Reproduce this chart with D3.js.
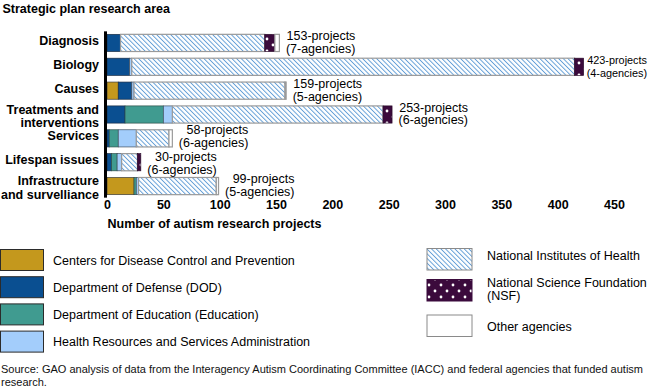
<!DOCTYPE html>
<html>
<head>
<meta charset="utf-8">
<script src="https://cdn.jsdelivr.net/npm/d3@7"></script>
<style>
  html, body { margin: 0; padding: 0; background: #fff; }
  svg { display: block; font-family: "Liberation Sans", Arial, sans-serif; }
</style>
</head>
<body>
<svg id="chart" width="650" height="390"></svg>
<script>
// ---- data ----
const categories = ["Diagnosis", "Biology", "Causes", "Treatments and interventions", "Services", "Lifespan issues", "Infrastructure and survelliance"];
const categoryLines = [["Diagnosis"], ["Biology"], ["Causes"], ["Treatments and", "interventions"], ["Services"], ["Lifespan issues"], ["Infrastructure", "and survelliance"]];
const cdc   = [0, 0, 10, 0, 0, 0, 24];
const dod   = [12, 20, 12, 16, 2, 4, 0];
const edu   = [0, 0, 0, 34, 8, 5, 2];
const hrsa  = [0, 2, 2, 8, 16, 4, 2];
const nih   = [128, 393, 134, 187, 29, 14, 69];
const nsf   = [9, 8, 0, 8, 0, 3, 0];
const other = [4, 0, 1, 0, 3, 0, 2];
const totalProjects = [153, 423, 159, 253, 58, 30, 99];
const agencyCounts  = [7, 4, 5, 6, 6, 6, 5];
const seriesKeys  = ["cdc", "dod", "edu", "hrsa", "nih", "nsf", "other"];
const seriesNames = ["Centers for Disease Control and Prevention", "Department of Defense (DOD)", "Department of Education (Education)", "Health Resources and Services Administration", "National Institutes of Health", "National Science Foundation (NSF)", "Other agencies"];
const xTicks = [0, 50, 100, 150, 200, 250, 300, 350, 400, 450];
const titleText = "Strategic plan research area";
const axisTitle = "Number of autism research projects";
const sourceLines = ["Source: GAO analysis of data from the Interagency Autism Coordinating Committee (IACC) and federal agencies that funded autism", "research."];

// ---- build table ----
const seriesValues = { cdc, dod, edu, hrsa, nih, nsf, other };
const table = categories.map((c, i) => {
  const row = { cat: c };
  seriesKeys.forEach(k => row[k] = seriesValues[k][i]);
  return row;
});

const svg = d3.select("#chart");
const FONT = 12.5;

// patterns
const defs = svg.append("defs");
const pNih = defs.append("pattern").attr("id", "pat-nih").attr("patternUnits", "userSpaceOnUse")
  .attr("width", 3.3).attr("height", 3.3).attr("patternTransform", "rotate(-45)");
pNih.append("rect").attr("width", 3.3).attr("height", 3.3).attr("fill", "#fff");
pNih.append("line").attr("x1", 0.5).attr("y1", -1).attr("x2", 0.5).attr("y2", 5)
  .attr("stroke", "#4f92d2").attr("stroke-width", 0.85);
const pNsf = defs.append("pattern").attr("id", "pat-nsf").attr("patternUnits", "userSpaceOnUse")
  .attr("width", 12).attr("height", 12);
pNsf.append("rect").attr("width", 12).attr("height", 12).attr("fill", "#3b0a3c");
pNsf.append("circle").attr("cx", 3).attr("cy", 3).attr("r", 1.4).attr("fill", "#fff");
pNsf.append("circle").attr("cx", 9).attr("cy", 9).attr("r", 1.4).attr("fill", "#fff");

const fills = { cdc: "#c4981d", dod: "#0a4f91", edu: "#409b90", hrsa: "#a3cdfb", nih: "url(#pat-nih)", nsf: "url(#pat-nsf)", other: "#ffffff" };
const strokes = { cdc: "#3a3a3a", dod: "#1b2d44", edu: "#2f4f4a", hrsa: "#40505e", nih: "#9a9a9a", nsf: "#2a0a2a", other: "#9a9a9a" };

// scales
const x = d3.scaleLinear().domain([0, 450]).range([107, 614]);
const y = d3.scaleBand().domain(categories).range([31, 198]).paddingInner(0.28).paddingOuter(0.14);

// title
svg.append("text").attr("x", 2.5).attr("y", 13).attr("font-size", FONT).attr("font-weight", "bold").text(titleText);

// stacked bars
const stacked = d3.stack().keys(seriesKeys)(table);
svg.append("g").selectAll("g").data(stacked).join("g")
  .each(function (s) {
    d3.select(this).selectAll("rect").data(s.filter(d => d[1] - d[0] > 0)).join("rect")
      .attr("x", d => x(d[0]))
      .attr("width", d => x(d[1]) - x(d[0]))
      .attr("y", d => y(d.data.cat))
      .attr("height", y.bandwidth())
      .attr("fill", fills[s.key])
      .attr("stroke", strokes[s.key])
      .attr("stroke-width", (s.key === "nih" || s.key === "other") ? 1.2 : 0.7);
  });

// vertical axis line
svg.append("line")
  .attr("x1", 105.5).attr("x2", 105.5)
  .attr("y1", y(categories[0]) - 3).attr("y2", y(categories[categories.length - 1]) + y.bandwidth() + 3)
  .attr("stroke", "#000").attr("stroke-width", 3);

// category labels
categories.forEach((c, i) => {
  const cy = y(c) + y.bandwidth() / 2;
  const lines = categoryLines[i];
  const t = svg.append("text").attr("text-anchor", "end").attr("font-size", FONT).attr("font-weight", "bold");
  if (lines.length === 1) {
    t.append("tspan").attr("x", 99).attr("y", cy + 2).text(lines[0]);
  } else {
    t.append("tspan").attr("x", 99).attr("y", cy - 1).text(lines[0]);
    t.append("tspan").attr("x", 99).attr("y", cy + 12.5).text(lines[1]);
  }
});

// value labels (two lines, right-aligned block; nudged apart when neighbours collide)
const labels = categories.map((c, i) => {
  const cy = y(c) + y.bandwidth() / 2;
  let x0 = x(totalProjects[i]) + 6.5;
  const l1 = svg.append("text").attr("font-size", FONT).text(totalProjects[i] + "-projects");
  const l2 = svg.append("text").attr("font-size", FONT).text("(" + agencyCounts[i] + "-agencies)");
  let w = Math.max(l1.node().getComputedTextLength(), l2.node().getComputedTextLength());
  let fs = FONT;
  if (x0 + w > 647) {
    x0 = x(totalProjects[i]) + 3;
    fs = FONT * (647 - x0) / w;
    w = w * fs / FONT;
  }
  return { l1, l2, x0, w, fs, c1: cy - 7, c2: cy + 5.5 };
});
for (let i = 1; i < labels.length; i++) {
  const a = labels[i - 1], b = labels[i];
  const hOverlap = !(a.x0 + a.w < b.x0 || b.x0 + b.w < a.x0);
  const gap = b.c1 - a.c2;
  if (hOverlap && gap < 14.5) {
    const s = (14.5 - gap) / 2;
    a.c1 -= s; a.c2 -= s; b.c1 += s; b.c2 += s;
  }
}
labels.forEach(L => {
  L.l1.attr("font-size", L.fs).attr("text-anchor", "end").attr("x", L.x0 + L.w).attr("y", L.c1 + 4.4);
  L.l2.attr("font-size", L.fs).attr("text-anchor", "end").attr("x", L.x0 + L.w).attr("y", L.c2 + 4.4);
});

// x axis
const xAxis = svg.append("g").attr("transform", "translate(0,200.5)")
  .call(d3.axisBottom(x).tickValues(xTicks).tickSize(0).tickPadding(0));
xAxis.select(".domain").remove();
xAxis.selectAll("text").attr("font-size", FONT).attr("font-weight", "bold")
  .attr("font-family", "Liberation Sans, Arial, sans-serif").attr("fill", "#000");

svg.append("text").attr("x", 107.5).attr("y", 227.5).attr("font-size", FONT).attr("font-weight", "bold").text(axisTitle);

// legend left
const leftKeys = seriesKeys.slice(0, 4);
leftKeys.forEach((k, i) => {
  const top = 249.5 + i * 27.2;
  svg.append("rect").attr("x", 0.5).attr("y", top).attr("width", 43).attr("height", 21)
    .attr("fill", fills[k]).attr("stroke", "#2b2b2b").attr("stroke-width", 1);
  svg.append("text").attr("x", 53).attr("y", top + 15).attr("font-size", FONT).text(seriesNames[seriesKeys.indexOf(k)]);
});

// legend right
const rightTops = [248.5, 279.5, 315];
const rightKeys = seriesKeys.slice(4);
rightKeys.forEach((k, i) => {
  const top = rightTops[i];
  svg.append("rect").attr("x", 427).attr("y", top).attr("width", 45).attr("height", 21.5)
    .attr("fill", fills[k]).attr("stroke", k === "nsf" ? "#3b0a3c" : "#8a8a8a").attr("stroke-width", 1);
  const name = seriesNames[seriesKeys.indexOf(k)];
  const t = svg.append("text").attr("font-size", FONT);
  if (k === "nsf") {
    const parts = name.split(" (");
    t.append("tspan").attr("x", 487).attr("y", 287).text(parts[0]);
    t.append("tspan").attr("x", 487).attr("y", 299.5).text("(" + parts[1]);
  } else if (k === "nih") {
    t.attr("x", 487).attr("y", 259.5).text(name);
  } else {
    t.attr("x", 487).attr("y", 330.5).text(name);
  }
});

// source
sourceLines.forEach((s, i) => {
  svg.append("text").attr("x", 1).attr("y", 373 + i * 13.3).attr("font-size", 11).attr("fill", "#111").text(s);
});
</script>
</body>
</html>
